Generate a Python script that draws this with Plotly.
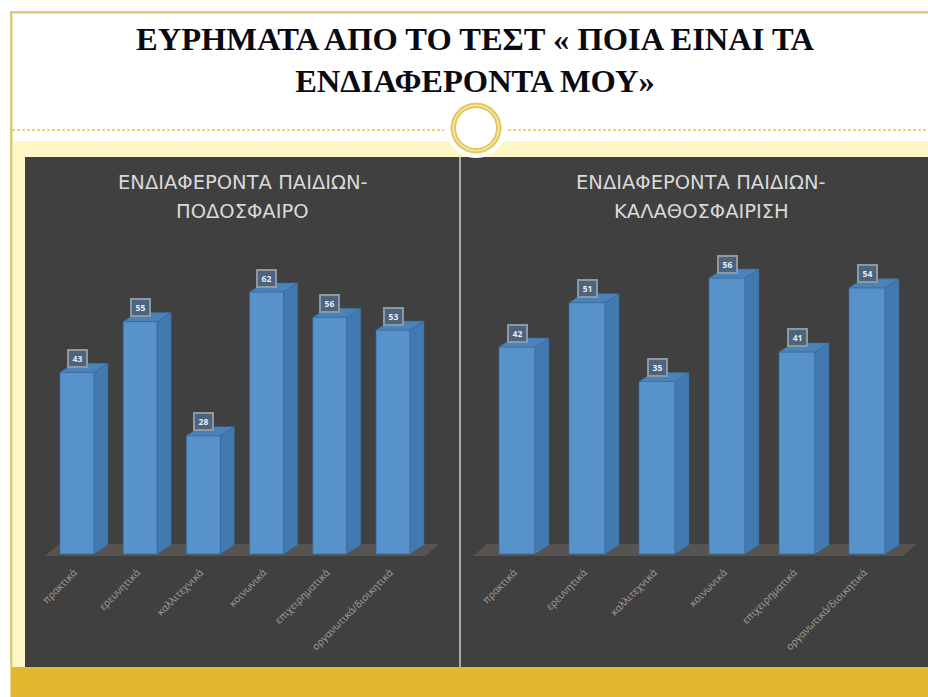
import plotly.graph_objects as go

W, H = 928, 697
categories = ["πρακτικά", "ερευνητικά", "καλλιτεχνικά", "κοινωνικά", "επιχειρηματικά", "οργανωτικά/διοικητικά"]
football = [43, 55, 28, 62, 56, 53]
basketball = [42, 51, 35, 56, 41, 54]
main_title = "ΕΥΡΗΜΑΤΑ ΑΠΟ ΤΟ ΤΕΣΤ « ΠΟΙΑ ΕΙΝΑΙ ΤΑ<br>ΕΝΔΙΑΦΕΡΟΝΤΑ ΜΟΥ»"
title_left = ["ΕΝΔΙΑΦΕΡΟΝΤΑ ΠΑΙΔΙΩΝ-", "ΠΟΔΟΣΦΑΙΡΟ"]
title_right = ["ΕΝΔΙΑΦΕΡΟΝΤΑ ΠΑΙΔΙΩΝ-", "ΚΑΛΑΘΟΣΦΑΙΡΙΣΗ"]

FRONT, SIDE, TOP, EDGE = "#5892CB", "#4279AE", "#4A82BA", "#33689C"
PANEL, FLOOR, GOLD, CREAM = "#404040", "#565350", "#E3B72F", "#FFF8C6"
LINE = "#DBC97C"

def px(x):
    return x / W

def py(y):
    return 1 - y / H

def rect(x0, y0, x1, y1, color):
    return dict(type="rect", xref="paper", yref="paper", x0=px(x0), x1=px(x1), y0=py(y1), y1=py(y0),
                fillcolor=color, line_width=0, layer="below")

def circle(cx, cy, r, color):
    return dict(type="circle", xref="paper", yref="paper", x0=px(cx - r), x1=px(cx + r), y0=py(cy + r), y1=py(cy - r),
                fillcolor=color, line_width=0, layer="below")

def hline(x0, x1, y):
    return dict(type="line", xref="paper", yref="paper", x0=px(x0), x1=px(x1), y0=py(y), y1=py(y),
                line=dict(color="#DCC758", width=1.5, dash="3px,2px"), layer="below")

shapes = [
    rect(12, 141, W, 667, CREAM),
    rect(10, 11, 12.5, 667, LINE),
    rect(10, 11, W, 13.5, LINE),
    rect(25, 157, 459, 667, PANEL),
    rect(461, 157, W, 667, PANEL),
    rect(459, 157, 461, 667, "#A9A9A4"),
    rect(10.5, 667, W, H, GOLD),
    hline(12, 444, 130),
    hline(508, W, 130),
    circle(476, 128, 30, "#FFFFFF"),
    circle(476, 128, 25.5, "#E3C75F"),
    circle(476, 128, 23.5, "#F5E9B0"),
    circle(476, 128, 22, "#E3C75F"),
    circle(476, 128, 20, "#FFFFFF"),
]

fig = go.Figure()
annotations = []

def panel(values, suffix, left, right, first_center, spacing, unit, bar_px, title, title_x, floor_l, floor_r):
    xa, ya = "x" + suffix, "y" + suffix
    bar_w = bar_px / spacing
    dx, dy = 14 / spacing, 9 / unit
    xs = list(range(len(values)))
    fig.add_bar(x=xs, y=values, width=bar_w, xaxis=xa, yaxis=ya,
                marker=dict(color=FRONT, line=dict(color=EDGE, width=0.7)), showlegend=False)
    for i, v in zip(xs, values):
        r = i + bar_w / 2
        l = i - bar_w / 2
        fig.add_scatter(x=[r, r + dx, r + dx, r, r], y=[0, dy, v + dy, v, 0], mode="lines", fill="toself",
                        fillcolor=SIDE, line=dict(color=EDGE, width=0.5), xaxis=xa, yaxis=ya, showlegend=False)
        fig.add_scatter(x=[l, r, r + dx, l + dx, l], y=[v, v, v + dy, v + dy, v], mode="lines", fill="toself",
                        fillcolor=TOP, line=dict(color=EDGE, width=0.5), xaxis=xa, yaxis=ya, showlegend=False)
        annotations.append(dict(x=i, y=v, xref=xa, yref=ya, text=f"<b>{v}</b>", showarrow=False, yshift=14,
                                xanchor="center", yanchor="middle", width=17, height=15, align="center", valign="middle",
                                font=dict(family="Open Sans", size=8.5, color="#E8ECF0"), bgcolor="#4B6482",
                                bordercolor="#8F979F", borderwidth=2, borderpad=0))
    fl = (floor_l - first_center) / spacing
    fr = (floor_r - first_center) / spacing
    low, high = -2 / unit, 10 / unit
    shapes.append(dict(type="path", xref=xa, yref=ya, layer="below", fillcolor=FLOOR, line_width=0,
                       path=f"M{fl},{low} L{fr},{low} L{fr + dx},{high} L{fl + dx},{high} Z"))
    xkey = "xaxis" + suffix
    ykey = "yaxis" + suffix
    fig.update_layout(**{
        xkey: dict(domain=[px(left), px(right)], range=[(left - first_center) / spacing, (right - first_center) / spacing],
                   tickmode="array", tickvals=[i - 3 / spacing for i in xs], ticktext=categories, tickangle=-45,
                   anchor="free", position=py(564), showgrid=False, zeroline=False, showline=False, ticks="",
                   tickfont=dict(family="Open Sans", size=10, color="#A0A0A0")),
        ykey: dict(domain=[py(667), py(157)], range=[-(667 - 554) / unit, (554 - 157) / unit],
                   visible=False, showgrid=False, zeroline=False, anchor="x" + suffix),
    })
    for line, yc in zip(title, (182, 211)):
        annotations.append(dict(x=px(title_x), y=py(yc), xref="paper", yref="paper", text=line, showarrow=False,
                                xanchor="center", yanchor="middle",
                                font=dict(family="DejaVu Sans", size=19.5, color="#D9D9D9")))

panel(football, "", 25, 459, 77, 63.2, 262 / 62, 34, title_left, 242.5, 45, 425)
panel(basketball, "2", 461, W, 517, 70, 276 / 56, 36, title_right, 701, 473, 903)

annotations.append(dict(x=px(475), y=py(60.5), xref="paper", yref="paper", text=f"<b>{main_title}</b>", showarrow=False,
                        align="center", xanchor="center", yanchor="middle",
                        font=dict(family="Liberation Serif", size=32.5, color="#0A0A14")))

fig.update_layout(width=W, height=H, margin=dict(l=0, r=0, t=0, b=0), paper_bgcolor="#FFFFFF",
                  plot_bgcolor="rgba(0,0,0,0)", shapes=shapes, annotations=annotations, showlegend=False, barmode="overlay")
fig.write_html("out.html", config=dict(displayModeBar=False),
               post_script="document.body.style.margin='0';document.body.style.overflow='hidden';")
